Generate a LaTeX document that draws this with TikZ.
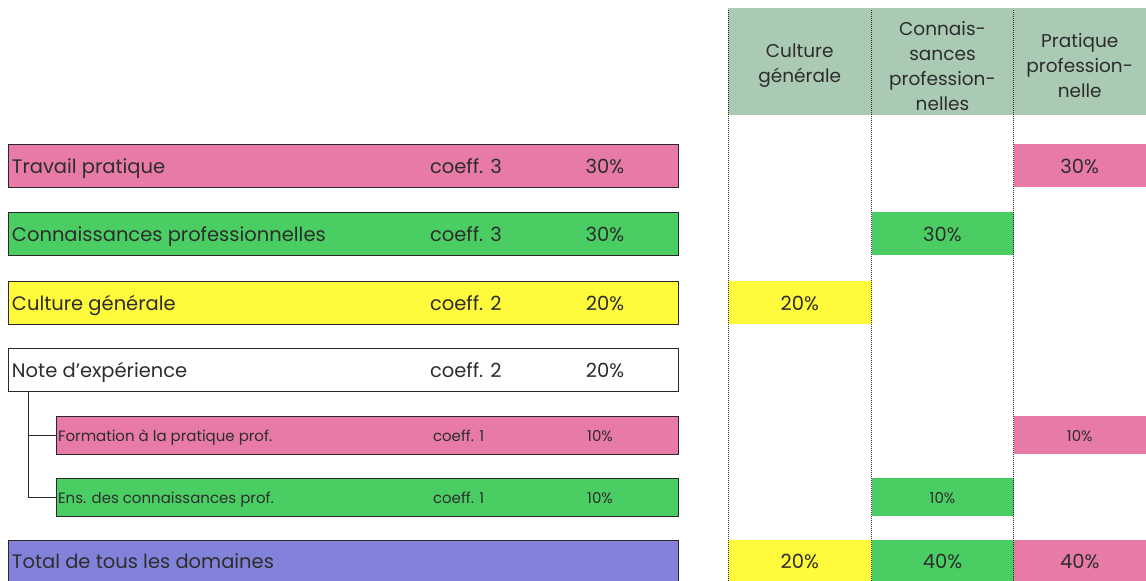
\documentclass[tikz,border=0pt]{standalone}
\usepackage{fontspec}
\setmainfont{Poppins}
\definecolor{mypink}{RGB}{232,122,168}
\definecolor{mygreen}{RGB}{74,206,100}
\definecolor{myyellow}{RGB}{255,250,60}
\definecolor{myblue}{RGB}{130,130,218}
\definecolor{myhead}{RGB}{170,202,180}
\definecolor{mytext}{RGB}{45,45,45}
\definecolor{myframe}{RGB}{45,40,40}
\usetikzlibrary{positioning,calc}

\begin{document}
\begin{tikzpicture}[x=1pt,y=-1pt,
    every node/.style={inner sep=0pt,outer sep=0pt,text=mytext,font=\fontsize{19.5}{22}\selectfont},
    small/.style={font=\fontsize{15}{18}\selectfont},
    lbl/.style={anchor=base west},
    num/.style={anchor=base},
    rowbox/.style={draw=myframe,line width=1pt,anchor=north west,minimum width=670pt,minimum height=43pt},
    subbox/.style={rowbox,minimum width=622pt,minimum height=38pt},
    cell/.style={anchor=north west,minimum height=43pt},
    subcell/.style={cell,minimum height=38pt},
    headtxt/.style={align=center,font=\fontsize{18.5}{25}\selectfont},
    colline/.style={densely dotted,line width=1pt,myframe}
    ]
    \useasboundingbox (0,0) rectangle (1146,581);

    % the columns
    \coordinate (c1) at (728,10);
    \coordinate (c2) at (871.5,10);
    \coordinate (c3) at (1013.5,10);
    \coordinate (c4) at (1146,10);
    \node[cell,fill=myhead,minimum width=418pt,minimum height=107pt] (head) at ([yshift=2pt]c1) {};
    \node[headtxt] (hcg) at ($(c1)!0.5!(c2)+(0,56)$) {Culture\\générale};
    \node[headtxt] (hcp) at ($(c2)!0.5!(c3)+(0,56)$) {Connais-\\sances\\profession-\\nelles};
    \node[headtxt] (hpp) at ($(c3)!0.5!(c4)+(0,56)$) {Pratique\\profession-\\nelle};

    % the rows
    \node[rowbox,fill=mypink] (tp) at (8,144) {};
    \node[rowbox,fill=mygreen] (cp) at (8,212) {};
    \node[rowbox,fill=myyellow] (cg) at (8,281) {};
    \node[rowbox,fill=white] (ne) at (8,348) {};
    \node[subbox,fill=mypink] (fp) at (56,416) {};
    \node[subbox,fill=mygreen] (ec) at (56,478) {};
    \node[rowbox,fill=myblue,minimum height=41pt] (tot) at (8,540) {};

    \node[lbl] (tp-l) at ([shift={(4,7.5)}]tp.west) {Travail pratique};
    \node[lbl] (tp-c) at ([shift={(422,7.5)}]tp.west) {coeff. 3};
    \node[num] (tp-p) at ([shift={(597,7.5)}]tp.west) {30\%};
    \node[lbl] (cp-l) at ([shift={(4,7.5)}]cp.west) {Connaissances professionnelles};
    \node[lbl] (cp-c) at ([shift={(422,7.5)}]cp.west) {coeff. 3};
    \node[num] (cp-p) at ([shift={(597,7.5)}]cp.west) {30\%};
    \node[lbl] (cg-l) at ([shift={(4,7.5)}]cg.west) {Culture générale};
    \node[lbl] (cg-c) at ([shift={(422,7.5)}]cg.west) {coeff. 2};
    \node[num] (cg-p) at ([shift={(597,7.5)}]cg.west) {20\%};
    \node[lbl] (ne-l) at ([shift={(4,7.5)}]ne.west) {Note d'expérience};
    \node[lbl] (ne-c) at ([shift={(422,7.5)}]ne.west) {coeff. 2};
    \node[num] (ne-p) at ([shift={(597,7.5)}]ne.west) {20\%};
    \node[lbl,small] (fp-l) at ([shift={(2,6)}]fp.west) {Formation à la pratique prof.};
    \node[lbl,small] (fp-c) at ([shift={(377,6)}]fp.west) {coeff. 1};
    \node[num,small] (fp-p) at ([shift={(544,6)}]fp.west) {10\%};
    \node[lbl,small] (ec-l) at ([shift={(2,6)}]ec.west) {Ens. des connaissances prof.};
    \node[lbl,small] (ec-c) at ([shift={(377,6)}]ec.west) {coeff. 1};
    \node[num,small] (ec-p) at ([shift={(544,6)}]ec.west) {10\%};
    \node[lbl] (tot-l) at ([shift={(4,7.5)}]tot.west) {Total de tous les domaines};

    % the tree
    \draw[myframe,line width=0.8pt] ([xshift=20pt]ne.south west) |- (fp.west);
    \draw[myframe,line width=0.8pt] ([xshift=20pt]ne.south west) |- (ec.west);

    % the cells
    \node[cell,fill=mypink,minimum width=132.5pt] (pp1) at (tp.north -| c3) {};
    \node[num] at ([yshift=-7.5pt]pp1.center) {30\%};
    \node[cell,fill=mygreen,minimum width=142pt] (kp1) at (cp.north -| c2) {};
    \node[num] at ([yshift=-7.5pt]kp1.center) {30\%};
    \node[cell,fill=myyellow,minimum width=143.5pt] (cg1) at (cg.north -| c1) {};
    \node[num] at ([yshift=-7.5pt]cg1.center) {20\%};
    \node[subcell,fill=mypink,minimum width=132.5pt] (pp2) at (fp.north -| c3) {};
    \node[num,small] at ([yshift=-6pt]pp2.center) {10\%};
    \node[subcell,fill=mygreen,minimum width=142pt] (kp2) at (ec.north -| c2) {};
    \node[num,small] at ([yshift=-6pt]kp2.center) {10\%};
    \node[cell,fill=myyellow,minimum width=143.5pt,minimum height=41pt] (cg9) at (tot.north -| c1) {};
    \node[num] at ([yshift=-7.5pt]cg9.center) {20\%};
    \node[cell,fill=mygreen,minimum width=142pt,minimum height=41pt] (kp9) at (tot.north -| c2) {};
    \node[num] at ([yshift=-7.5pt]kp9.center) {40\%};
    \node[cell,fill=mypink,minimum width=132.5pt,minimum height=41pt] (pp9) at (tot.north -| c3) {};
    \node[num] at ([yshift=-7.5pt]pp9.center) {40\%};

    \draw[colline] (c1) -- (c1 |- tot.south);
    \draw[colline] (c2) -- (c2 |- tot.south);
    \draw[colline] (c3) -- (c3 |- tot.south);
\end{tikzpicture}
\end{document}
